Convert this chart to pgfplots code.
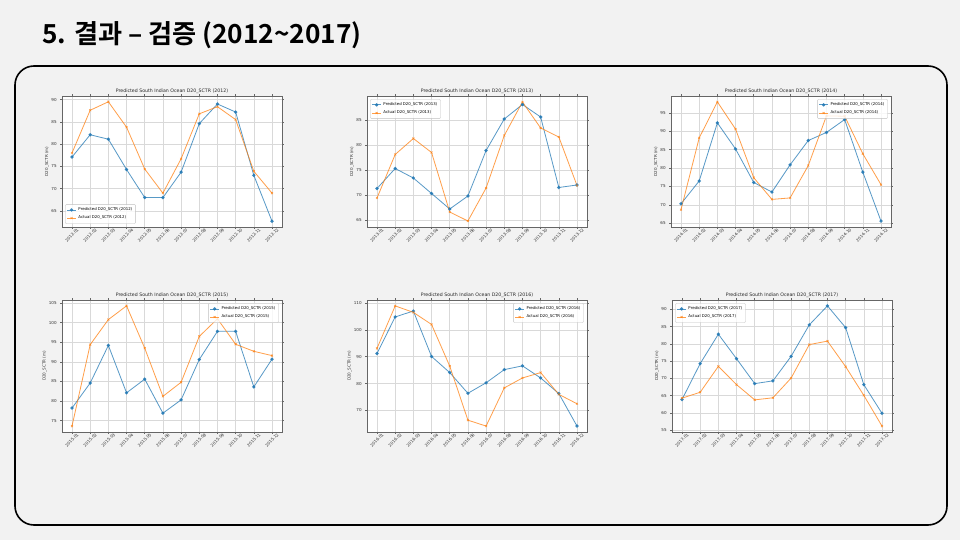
\documentclass[border=0pt]{standalone}
\usepackage{fontspec}
\setmainfont{DejaVu Sans}
\newfontfamily\kr[BoldFont={Noto Sans CJK KR Bold}]{Noto Sans CJK KR}
\usepackage{pgfplots}
\pgfplotsset{compat=1.18}
\definecolor{tblue}{HTML}{1F77B4}
\definecolor{torange}{HTML}{FF7F0E}
\definecolor{slide}{HTML}{F2F2F2}
\pgfplotsset{
  sp/.style={
    scale only axis, width=220bp, height=131bp, anchor=south west,
    xmin=-0.55, xmax=11.55, xtick={0,...,11},
    axis background/.style={fill=white},
    grid=major, grid style={black!15, line width=0.5bp},
    axis line style={black!60, line width=0.6bp},
    tick align=outside, major tick length=1.8bp,
    tick style={black!60, line width=0.5bp},
    tick label style={font=\fontsize{4.1}{4.5}\selectfont, text=black!80},
    /pgf/number format/assume math mode=true,
    xticklabel style={rotate=45, anchor=center},
    xticklabel shift=6.5bp,
    title style={font=\fontsize{4.7}{5}\selectfont, text=black!85, yshift=-7bp},
    ylabel style={font=\fontsize{4.1}{4.5}\selectfont, text=black!80, yshift=-4.5bp},
    ylabel={D20\_SCTR (m)},
    legend style={font=\fontsize{3.9}{4.4}\selectfont, draw=black!25, rounded corners=0.8bp, fill=white, fill opacity=0.8, text opacity=1, inner sep=1.2bp, row sep=-0.3bp},
    legend cell align=left,
    legend image code/.code={\draw[mark repeat=2,mark phase=2] plot coordinates {(0bp,0bp) (4.5bp,0bp) (9bp,0bp)};},
  },
  pred/.style={tblue, opacity=0.75, line width=0.8bp, mark=*, mark size=1.3bp},
  act/.style={torange, opacity=0.75, line width=0.8bp, mark=x, mark size=1.4bp, mark options={line width=0.6bp}},
}
\begin{document}
\begin{tikzpicture}
\fill[slide] (0,0) rectangle (960bp,540bp);
\useasboundingbox (0,0) rectangle (960bp,540bp);
\draw[line width=1.6bp, rounded corners=19bp] (15bp,474bp) rectangle (947bp,15bp);
\node[anchor=base west, font=\kr\bfseries\fontsize{26.3}{30}\selectfont, inner sep=0pt] at (42bp,496bp) {5. 결과 – 검증 (2012\textasciitilde 2017)};

% 2012
\begin{axis}[sp, at={(62bp,313bp)}, ymin=61.4, ymax=90.8, ytick={65,70,...,90},
  xticklabels={2012-01,2012-02,2012-03,2012-04,2012-05,2012-06,2012-07,2012-08,2012-09,2012-10,2012-11,2012-12},
  title={Predicted South Indian Ocean D20\_SCTR (2012)},
  legend style={at={(0.015,0.025)}, anchor=south west}]
\addplot[pred] coordinates {(0,77.1)(1,82.1)(2,81.1)(3,74.3)(4,68.0)(5,68.0)(6,73.7)(7,84.6)(8,89.0)(9,87.2)(10,73.0)(11,62.7)};
\addplot[act] coordinates {(0,78.0)(1,87.6)(2,89.5)(3,83.8)(4,74.4)(5,69.0)(6,76.7)(7,86.8)(8,88.4)(9,85.5)(10,73.9)(11,69.0)};
\legend{Predicted D20\_SCTR (2012),Actual D20\_SCTR (2012)}
\end{axis}

% 2013
\begin{axis}[sp, at={(367bp,313bp)}, ymin=63.7, ymax=89.9, ytick={65,70,...,85},
  xticklabels={2013-01,2013-02,2013-03,2013-04,2013-05,2013-06,2013-07,2013-08,2013-09,2013-10,2013-11,2013-12},
  title={Predicted South Indian Ocean D20\_SCTR (2013)},
  legend style={at={(0.015,0.975)}, anchor=north west}]
\addplot[pred] coordinates {(0,71.4)(1,75.4)(2,73.5)(3,70.4)(4,67.3)(5,69.9)(6,79.0)(7,85.3)(8,88.2)(9,85.7)(10,71.6)(11,72.1)};
\addplot[act] coordinates {(0,69.5)(1,78.2)(2,81.4)(3,78.6)(4,66.7)(5,64.9)(6,71.5)(7,82.0)(8,88.7)(9,83.5)(10,81.7)(11,72.0)};
\legend{Predicted D20\_SCTR (2013),Actual D20\_SCTR (2013)}
\end{axis}

% 2014
\begin{axis}[sp, at={(671bp,313bp)}, ymin=64.0, ymax=99.6, ytick={65,70,...,95},
  xticklabels={2014-01,2014-02,2014-03,2014-04,2014-05,2014-06,2014-07,2014-08,2014-09,2014-10,2014-11,2014-12},
  title={Predicted South Indian Ocean D20\_SCTR (2014)},
  legend style={at={(0.985,0.975)}, anchor=north east}]
\addplot[pred] coordinates {(0,70.3)(1,76.5)(2,92.3)(3,85.2)(4,76.1)(5,73.5)(6,80.9)(7,87.5)(8,89.7)(9,93.2)(10,78.9)(11,65.6)};
\addplot[act] coordinates {(0,68.7)(1,88.2)(2,98.0)(3,90.6)(4,77.4)(5,71.5)(6,71.9)(7,80.7)(8,94.2)(9,94.1)(10,83.9)(11,75.5)};
\legend{Predicted D20\_SCTR (2014),Actual D20\_SCTR (2014)}
\end{axis}

% 2015
\begin{axis}[sp, at={(62bp,108bp)}, height=132bp, ymin=72.1, ymax=105.8, ytick={75,80,...,105},
  xticklabels={2015-01,2015-02,2015-03,2015-04,2015-05,2015-06,2015-07,2015-08,2015-09,2015-10,2015-11,2015-12},
  title={Predicted South Indian Ocean D20\_SCTR (2015)},
  legend style={at={(0.985,0.975)}, anchor=north east}]
\addplot[pred] coordinates {(0,78.2)(1,84.6)(2,94.2)(3,82.1)(4,85.6)(5,76.9)(6,80.3)(7,90.6)(8,97.8)(9,97.8)(10,83.6)(11,90.7)};
\addplot[act] coordinates {(0,73.6)(1,94.4)(2,100.8)(3,104.3)(4,93.5)(5,81.2)(6,84.8)(7,96.5)(8,101.0)(9,94.5)(10,92.7)(11,91.6)};
\legend{Predicted D20\_SCTR (2015),Actual D20\_SCTR (2015)}
\end{axis}

% 2016
\begin{axis}[sp, at={(367bp,108bp)}, height=132bp, ymin=62.0, ymax=111.1, ytick={70,80,...,110},
  xticklabels={2016-01,2016-02,2016-03,2016-04,2016-05,2016-06,2016-07,2016-08,2016-09,2016-10,2016-11,2016-12},
  title={Predicted South Indian Ocean D20\_SCTR (2016)},
  legend style={at={(0.985,0.975)}, anchor=north east}]
\addplot[pred] coordinates {(0,91.2)(1,104.8)(2,107.0)(3,90.1)(4,84.1)(5,76.4)(6,80.3)(7,85.2)(8,86.6)(9,82.1)(10,76.3)(11,64.2)};
\addplot[act] coordinates {(0,93.1)(1,108.9)(2,106.5)(3,102.0)(4,86.5)(5,66.4)(6,64.2)(7,78.4)(8,82.1)(9,84.1)(10,76.0)(11,72.5)};
\legend{Predicted D20\_SCTR (2016),Actual D20\_SCTR (2016)}
\end{axis}

% 2017
\begin{axis}[sp, at={(672bp,108bp)}, height=132bp, ymin=54.5, ymax=92.7, ytick={55,60,...,90},
  xticklabels={2017-01,2017-02,2017-03,2017-04,2017-05,2017-06,2017-07,2017-08,2017-09,2017-10,2017-11,2017-12},
  title={Predicted South Indian Ocean D20\_SCTR (2017)},
  legend style={at={(0.015,0.975)}, anchor=north west}]
\addplot[pred] coordinates {(0,63.9)(1,74.3)(2,82.8)(3,75.7)(4,68.5)(5,69.3)(6,76.4)(7,85.5)(8,91.0)(9,84.7)(10,68.2)(11,59.9)};
\addplot[act] coordinates {(0,64.3)(1,66.0)(2,73.5)(3,68.2)(4,63.8)(5,64.4)(6,70.1)(7,79.8)(8,80.8)(9,73.4)(10,65.1)(11,56.2)};
\legend{Predicted D20\_SCTR (2017),Actual D20\_SCTR (2017)}
\end{axis}
\end{tikzpicture}
\end{document}
